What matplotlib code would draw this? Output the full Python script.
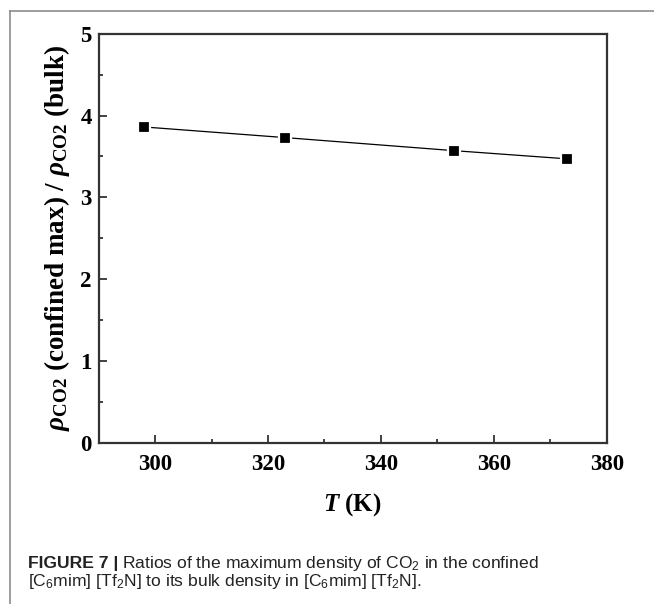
import matplotlib
matplotlib.use("Agg")
import matplotlib.pyplot as plt
from matplotlib.lines import Line2D
from matplotlib.ticker import MultipleLocator

# Data: temperature (K) and ratio of confined max CO2 density to bulk density
temperature = [298, 323, 353, 373]
density_ratio = [3.86, 3.73, 3.57, 3.47]

x_ticks = [300, 320, 340, 360, 380]
y_ticks = [0, 1, 2, 3, 4, 5]

plt.rcParams["font.family"] = ["Liberation Serif", "DejaVu Serif"]
plt.rcParams["mathtext.fontset"] = "custom"
plt.rcParams["mathtext.rm"] = "Liberation Serif:bold"
plt.rcParams["mathtext.bf"] = "Liberation Serif:bold"
plt.rcParams["mathtext.it"] = "Liberation Serif:italic:bold"
plt.rcParams["mathtext.sf"] = "Liberation Sans"

W, H = 654, 604
fig = plt.figure(figsize=(W / 100, H / 100), dpi=100)

ax_l, ax_r, ax_t, ax_b = 98.7, 606.7, 33.7, 442.7
ax = fig.add_axes([ax_l / W, 1 - ax_b / H, (ax_r - ax_l) / W, (ax_b - ax_t) / H])

ax.plot(temperature, density_ratio, color="black", lw=0.9,
        marker="s", markersize=8.5, markerfacecolor="black",
        markeredgecolor="white", markeredgewidth=1.6, zorder=3)

ax.set_xlim(290, 380)
ax.set_ylim(0, 5)
ax.set_xticks(x_ticks)
ax.set_yticks(y_ticks)
ax.xaxis.set_minor_locator(MultipleLocator(10))
ax.yaxis.set_minor_locator(MultipleLocator(0.5))

spine_color = "#333333"
for side in ["left", "bottom", "top", "right"]:
    ax.spines[side].set_color(spine_color)
    ax.spines[side].set_linewidth(1.6)

ax.tick_params(which="both", direction="in", top=False, right=False,
               color=spine_color, width=1.3)
ax.tick_params(which="major", length=5.5, labelsize=16.5)
ax.tick_params(which="minor", length=3)
ax.tick_params(axis="x", which="major", pad=8)
ax.tick_params(axis="y", which="major", pad=5)
for lab in ax.get_xticklabels() + ax.get_yticklabels():
    lab.set_fontweight("bold")

ax.set_xlabel(r"$T$ (K)", fontsize=18, fontweight="bold", labelpad=12)
ax.set_ylabel(r"$\rho_{\mathrm{CO2}}$ (confined max) / $\rho_{\mathrm{CO2}}$ (bulk)",
              fontsize=19.5, fontweight="bold", labelpad=6)

# Gray frame around the figure panel
frame_color = "#8c8c8c"
fig.add_artist(Line2D([9.5 / W, 9.5 / W], [0, 1 - 10.5 / H],
                      transform=fig.transFigure, color=frame_color, lw=1.2))
fig.add_artist(Line2D([9.5 / W, 1], [1 - 10.5 / H, 1 - 10.5 / H],
                      transform=fig.transFigure, color=frame_color, lw=1.2))

# Caption
cap_color = "#222222"
cap_kw = dict(fontsize=12.6, color=cap_color, va="baseline", ha="left",
              family=["Liberation Sans", "DejaVu Sans"])
x0 = 28 / W
y1 = 1 - 568 / H
y2 = 1 - 586 / H
bold = fig.text(x0, y1, "FIGURE 7 |", fontweight="bold", **cap_kw)
renderer = fig.canvas.get_renderer()
bb = bold.get_window_extent(renderer=renderer)
fig.text(bb.x1 / W + 4 / W, y1,
         r"Ratios of the maximum density of CO$_\mathsf{2}$ in the confined",
         **cap_kw)
fig.text(x0, y2,
         r"[C$_\mathsf{6}$mim] [Tf$_\mathsf{2}$N] to its bulk density in "
         r"[C$_\mathsf{6}$mim] [Tf$_\mathsf{2}$N].",
         **cap_kw)

fig.savefig("out.png", dpi=100)
